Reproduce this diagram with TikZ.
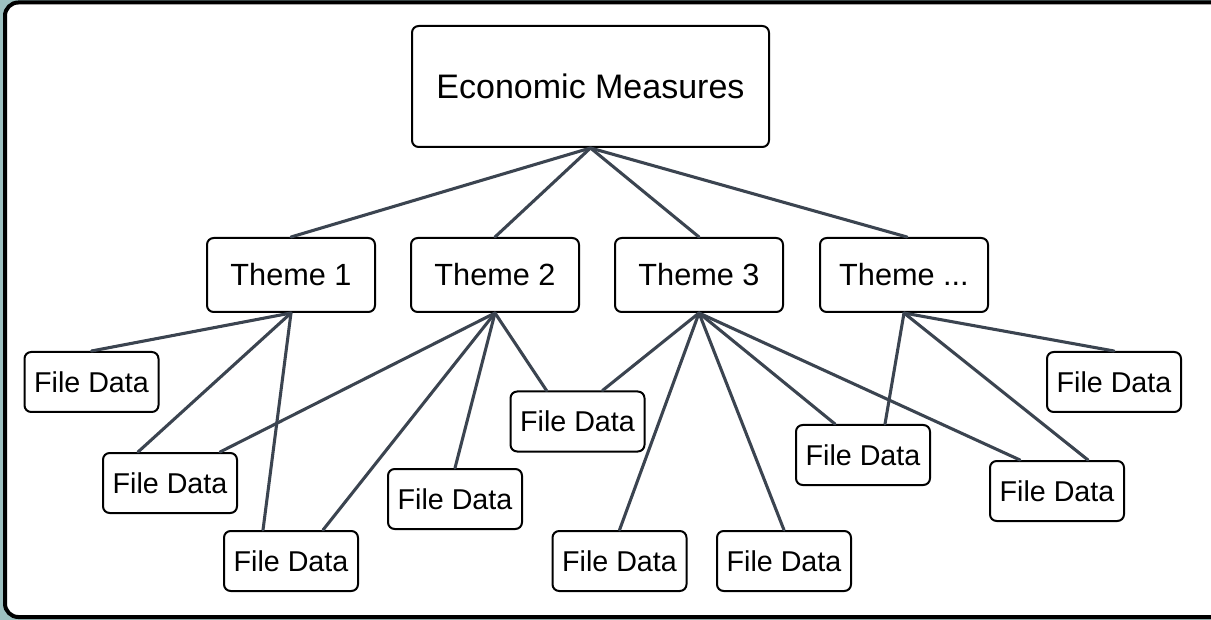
\documentclass[tikz,border=0pt]{standalone}
\usepackage{fontspec}
\setmainfont{Liberation Sans}
\usetikzlibrary{calc}
\definecolor{bgteal}{HTML}{9DC0C0}
\definecolor{linkc}{HTML}{3B4450}
\tikzset{
  rootbox/.style={draw=black, line width=1.5pt, rounded corners=5pt, fill=white,
    minimum width=357*0.75pt, minimum height=121*0.75pt, inner sep=0pt,
    font=\fontsize{25.5pt}{30pt}\selectfont},
  themebox/.style={draw=black, line width=1.5pt, rounded corners=5pt, fill=white,
    minimum width=168*0.75pt, minimum height=74*0.75pt, inner sep=0pt,
    font=\fontsize{23pt}{27pt}\selectfont},
  filebox/.style={draw=black, line width=1.5pt, rounded corners=5pt, fill=white,
    minimum width=134*0.75pt, minimum height=60*0.75pt, inner sep=0pt,
    font=\fontsize{21.5pt}{25pt}\selectfont},
  link/.style={draw=linkc, line width=2.3pt, line cap=round},
}
\begin{document}
\begin{tikzpicture}[x=0.75pt, y=-0.75pt]
\useasboundingbox (0,0) rectangle (1211,620);
\fill[bgteal] (0,0) rectangle (1211,620);
\begin{scope}
\clip (0,0) rectangle (1211,620);
\draw[line width=3pt, fill=white, rounded corners=10pt] (5,2.5) rectangle (1225,617);
\end{scope}

\node[rootbox] (root) at (590.5,86.5) {Economic Measures};
\node[themebox] (t1) at (291,275) {Theme 1};
\node[themebox] (t2) at (495,275) {Theme 2};
\node[themebox] (t3) at (699,275) {Theme 3};
\node[themebox] (t4) at (904,275) {Theme ...};

\node[filebox] (f1) at (91.5,382) {File Data};
\node[filebox] (f2) at (170,483) {File Data};
\node[filebox] (f3) at (291,561) {File Data};
\node[filebox] (f4) at (455,499) {File Data};
\node[filebox] (f5) at (577.5,421.5) {File Data};
\node[filebox] (f6) at (619.5,561) {File Data};
\node[filebox] (f7) at (784,561) {File Data};
\node[filebox] (f8) at (863,455) {File Data};
\node[filebox] (f9) at (1114,382) {File Data};
\node[filebox] (f10) at (1057,491) {File Data};

\path[link] (root.south) -- (t1.north);
\path[link] (root.south) -- (t2.north);
\path[link] (root.south) -- (t3.north);
\path[link] (root.south) -- ([xshift=3*0.75pt]t4.north);

\path[link] (t1.south) -- (f1.north);
\path[link] (t1.south) -- ([xshift=36*0.75pt]f2.north west);
\path[link] (t1.south) -- ([xshift=40*0.75pt]f3.north west);

\path[link] (t2.south) -- ([xshift=118*0.75pt]f2.north west);
\path[link] (t2.south) -- ([xshift=100*0.75pt]f3.north west);
\path[link] (t2.south) -- (f4.north);
\path[link] (t2.south) -- ([xshift=37*0.75pt]f5.north west);

\path[link] (t3.south) -- ([xshift=93*0.75pt]f5.north west);
\path[link] (t3.south) -- (f6.north);
\path[link] (t3.south) -- (f7.north);
\path[link] (t3.south) -- ([xshift=40*0.75pt]f8.north west);
\path[link] (t3.south) -- ([xshift=31*0.75pt]f10.north west);

\path[link] (t4.south) -- ([xshift=90*0.75pt]f8.north west);
\path[link] (t4.south) -- ([xshift=99*0.75pt]f10.north west);
\path[link] (t4.south) -- (f9.north);
\end{tikzpicture}
\end{document}
